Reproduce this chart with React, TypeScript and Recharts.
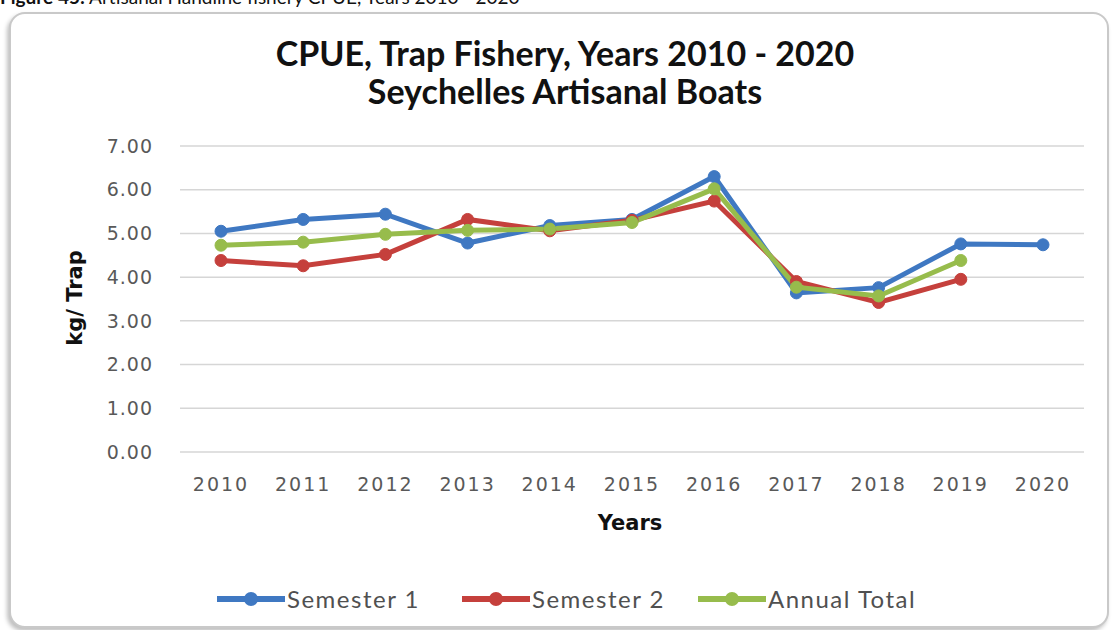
import { CartesianGrid, Line, LineChart, XAxis, YAxis } from 'recharts';

const years = ['2010', '2011', '2012', '2013', '2014', '2015', '2016', '2017', '2018', '2019', '2020'];
const semester1 = [5.05, 5.32, 5.44, 4.78, 5.18, 5.32, 6.3, 3.64, 3.76, 4.76, 4.74];
const semester2 = [4.38, 4.26, 4.52, 5.32, 5.06, 5.3, 5.74, 3.9, 3.42, 3.95, null];
const annualTotal = [4.73, 4.8, 4.98, 5.07, 5.1, 5.25, 6.02, 3.77, 3.57, 4.38, null];
const yTicks = [0, 1, 2, 3, 4, 5, 6, 7];

const series = [
  { key: 'semester1', name: 'Semester 1', color: '#3f78c2', legendX: 215 },
  { key: 'semester2', name: 'Semester 2', color: '#c5403c', legendX: 460 },
  { key: 'annual', name: 'Annual Total', color: '#97bc4c', legendX: 696 },
];

const data = years.map((year, i) => ({
  year,
  semester1: semester1[i],
  semester2: semester2[i],
  annual: annualTotal[i],
}));

const tickFont = '"DejaVu Sans", sans-serif';
const titleFont = 'Lato, "Open Sans", sans-serif';

export default function App() {
  return (
    <div style={{ position: 'absolute', left: 0, top: 0, width: 1112, height: 630, background: '#fff', overflow: 'hidden' }}>
      <svg width={1112} height={20} style={{ position: 'absolute', left: 0, top: 0 }}>
        <text x={0} y={4} fontFamily={titleFont} fontSize={19} fill="#111">
          <tspan fontWeight="bold">Figure 45:</tspan> Artisanal Handline fishery CPUE, Years 2010 - 2020
        </text>
      </svg>
      <div
        style={{
          position: 'absolute',
          left: 9,
          top: 12,
          width: 1096,
          height: 612,
          border: '2px solid #c9c9c9',
          borderRadius: 16,
          boxShadow: '-2px 3px 4px rgba(0,0,0,0.25)',
          background: '#fff',
        }}
      />
      <div
        style={{
          position: 'absolute',
          left: 0,
          top: 34,
          width: 1130,
          textAlign: 'center',
          fontFamily: titleFont,
          fontWeight: 'bold',
          fontSize: 34,
          lineHeight: '38px',
          color: '#111',
        }}
      >
        <div>CPUE, Trap Fishery, Years 2010 - 2020</div>
        <div>Seychelles Artisanal Boats</div>
      </div>
      <div style={{ position: 'absolute', left: 0, top: 0 }}>
        <LineChart width={1112} height={630} data={data} margin={{ top: 146, right: 28, bottom: 148, left: 120 }}>
          <CartesianGrid vertical={false} stroke="#d6d6d6" strokeWidth={1.5} />
          <XAxis
            dataKey="year"
            axisLine={false}
            tickLine={false}
            tickMargin={20}
            padding={{ left: 41, right: 41 }}
            tick={{ fontSize: 19, fill: '#595959', fontFamily: tickFont, letterSpacing: 2 }}
            interval={0}
          />
          <YAxis
            width={60}
            domain={[0, 7]}
            ticks={yTicks}
            axisLine={false}
            tickLine={false}
            tickMargin={21}
            tickFormatter={(v: number) => v.toFixed(2)}
            tick={{ fontSize: 19, fill: '#595959', fontFamily: tickFont, letterSpacing: 1 }}
          />
          {series.map((s) => (
            <Line
              key={s.key}
              dataKey={s.key}
              name={s.name}
              stroke={s.color}
              strokeWidth={5}
              dot={{ r: 6, fill: s.color, stroke: s.color, strokeWidth: 1 }}
              isAnimationActive={false}
              connectNulls={false}
            />
          ))}
        </LineChart>
      </div>
      <div
        style={{
          position: 'absolute',
          left: 75,
          top: 298,
          transform: 'translate(-50%, -50%) rotate(-90deg)',
          whiteSpace: 'nowrap',
          fontFamily: tickFont,
          fontWeight: 'bold',
          fontSize: 21,
          color: '#111',
        }}
      >
        kg/ Trap
      </div>
      <div
        style={{
          position: 'absolute',
          left: 630,
          top: 523,
          transform: 'translate(-50%, -50%)',
          fontFamily: tickFont,
          fontWeight: 'bold',
          fontSize: 21,
          color: '#111',
        }}
      >
        Years
      </div>
      {series.map((s) => (
        <div
          key={s.key}
          style={{
            position: 'absolute',
            left: s.legendX,
            top: 584,
            display: 'flex',
            alignItems: 'center',
            fontFamily: titleFont,
            fontSize: 24,
            letterSpacing: 1.5,
            color: '#505050',
          }}
        >
          <svg width={72} height={28}>
            <line x1={2} y1={14} x2={70} y2={14} stroke={s.color} strokeWidth={6} />
            <circle cx={36} cy={14} r={7} fill={s.color} />
          </svg>
          <span>{s.name}</span>
        </div>
      ))}
    </div>
  );
}
